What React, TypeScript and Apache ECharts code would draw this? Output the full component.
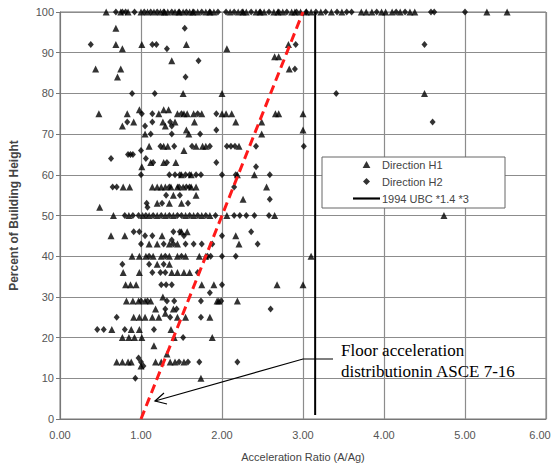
import React, { useEffect, useRef } from "react";
import * as echarts from "echarts";

const xTicks = ["0.00", "1.00", "2.00", "3.00", "4.00", "5.00", "6.00"];
const yTicks = [0, 10, 20, 30, 40, 50, 60, 70, 80, 90, 100];

const seriesNames = ["Direction H1", "Direction H2", "1994 UBC *1.4 *3"];

// Direction H1 (triangles): [acceleration ratio, percent of building height]
const h1Points: [number, number][] = [
  [0.57, 100], [0.75, 100], [0.84, 100], [1.0, 100], [1.08, 100], [1.16, 100], [1.24, 100], [1.33, 100], [1.42, 100],
  [1.52, 100], [1.6, 100], [1.7, 100], [1.8, 100], [1.9, 100], [2.1, 100], [2.2, 100], [2.3, 100], [2.42, 100],
  [2.52, 100], [2.64, 100], [2.75, 100], [2.86, 100], [2.97, 100], [3.1, 100], [3.22, 100], [3.35, 100], [3.48, 100],
  [3.72, 100], [3.78, 100], [3.85, 100], [3.97, 100], [4.02, 100], [4.1, 100], [4.2, 100], [4.32, 100], [4.38, 100],
  [1.29, 100], [1.47, 100], [1.64, 100], [1.85, 100], [2.26, 100], [2.47, 100], [2.69, 100], [2.9, 100], [3.04, 100],
  [5.27, 100], [5.52, 100],
  [0.69, 96], [0.69, 92], [1.01, 92], [1.56, 92], [2.82, 92], [0.77, 91], [2.06, 91], [2.65, 89], [2.7, 89],
  [1.38, 88], [0.44, 86], [0.75, 86], [2.83, 86], [0.71, 84], [1.52, 80], [2.0, 80], [4.5, 80],
  [0.98, 76], [1.28, 76], [1.34, 76], [0.48, 75], [0.83, 75], [1.22, 75], [1.45, 75], [1.53, 75], [1.57, 75],
  [1.65, 75], [1.75, 75], [2.0, 75], [2.05, 75], [2.12, 75], [2.66, 75], [2.7, 75], [3.0, 75],
  [0.91, 73], [1.27, 73], [1.42, 73], [1.66, 73], [2.17, 73], [2.49, 73], [0.77, 72], [1.3, 72],
  [1.56, 71], [3.0, 71], [1.05, 70], [1.59, 70], [2.49, 70],
  [1.1, 67], [1.28, 67], [1.33, 67], [1.68, 67], [1.76, 67], [1.8, 67], [2.21, 67], [1.53, 66],
  [1.12, 63], [1.28, 63], [1.43, 63], [1.01, 62],
  [1.5, 60], [1.62, 60], [2.19, 60], [2.4, 60],
  [0.78, 57], [0.86, 57], [1.14, 57], [1.2, 57], [1.25, 57], [1.3, 57], [1.37, 57], [1.45, 57], [1.52, 57],
  [1.62, 57], [1.68, 57], [2.55, 57], [1.4, 55], [1.68, 55], [2.26, 54],
  [1.2, 53], [1.35, 53], [1.5, 53], [0.49, 52],
  [0.66, 50], [0.85, 50], [1.02, 50], [1.1, 50], [1.2, 50], [1.3, 50], [1.4, 50], [1.55, 50], [1.65, 50],
  [1.75, 50], [1.85, 50], [2.06, 50], [2.65, 50], [4.74, 50],
  [1.5, 46], [1.57, 46], [0.63, 45], [0.8, 45], [1.26, 45], [2.17, 45],
  [1.1, 43], [1.2, 43], [1.35, 43], [1.45, 43], [2.21, 43],
  [0.89, 40], [0.98, 40], [1.06, 40], [1.15, 40], [1.25, 40], [1.35, 40], [1.45, 40], [1.55, 40], [1.72, 40],
  [1.8, 40], [3.1, 40], [1.2, 38], [1.35, 38],
  [0.78, 36], [0.98, 36], [1.38, 36], [1.45, 36], [1.53, 36], [1.6, 36],
  [0.81, 33], [0.87, 33], [0.94, 33], [1.75, 33], [1.9, 33], [2.68, 33], [3.0, 33],
  [1.27, 30], [0.82, 29], [0.9, 29], [0.97, 29], [1.05, 29], [1.12, 29], [1.94, 29], [1.96, 29], [2.19, 29],
  [1.18, 27], [1.4, 27],
  [0.91, 25], [0.98, 25], [1.05, 25], [1.14, 25], [1.22, 25], [1.3, 26], [1.45, 25], [1.55, 25], [1.85, 25],
  [0.64, 22], [0.88, 22], [0.98, 22], [1.37, 22],
  [0.77, 20], [0.85, 20], [0.92, 20], [1.01, 20], [1.41, 20], [1.88, 20],
  [1.16, 18], [1.32, 16],
  [0.7, 14], [0.77, 14], [0.84, 14], [0.88, 14], [1.18, 14], [1.25, 14], [1.36, 14], [1.42, 14], [1.53, 14],
  [1.0, 13], [1.74, 10],
];

// Direction H2 (diamonds)
const h2Points: [number, number][] = [
  [0.69, 100], [0.77, 100], [0.81, 100], [0.92, 100], [1.04, 100], [1.12, 100], [1.2, 100], [1.28, 100], [1.38, 100],
  [1.47, 100], [1.56, 100], [1.65, 100], [1.75, 100], [1.85, 100], [1.95, 100], [2.05, 100], [2.15, 100], [2.25, 100],
  [2.36, 100], [2.47, 100], [2.58, 100], [2.7, 100], [2.8, 100], [2.92, 100], [3.04, 100], [3.16, 100], [3.28, 100],
  [3.42, 100], [3.54, 100], [3.6, 100], [3.91, 100], [4.15, 100], [4.26, 100], [4.58, 100], [4.62, 100], [5.0, 100],
  [1.54, 96], [0.38, 92], [1.14, 92], [1.19, 92], [2.91, 92], [4.5, 92], [1.32, 91],
  [1.71, 88], [2.9, 86], [1.55, 84],
  [0.89, 80], [1.17, 80], [3.41, 80],
  [1.01, 75], [1.14, 75], [1.5, 75], [1.7, 75], [1.93, 75],
  [0.83, 73], [1.14, 73], [1.36, 73], [4.6, 73], [1.05, 72], [1.38, 72], [1.93, 71],
  [1.12, 70], [1.38, 70], [1.73, 70],
  [1.24, 67], [1.41, 67], [1.63, 67], [1.85, 67], [2.06, 67], [2.11, 67], [2.16, 67], [2.42, 67], [3.01, 67],
  [1.0, 66], [0.84, 65], [0.87, 65], [0.9, 65], [0.63, 64], [1.06, 64],
  [1.15, 63], [1.32, 63], [1.93, 63], [2.42, 62],
  [1.0, 60], [1.35, 60], [1.42, 60], [1.48, 60], [1.55, 60], [1.6, 60], [1.68, 60], [1.74, 60], [2.0, 60],
  [2.17, 60], [2.59, 60],
  [0.65, 57], [0.7, 57], [1.35, 57], [1.47, 57], [1.56, 57], [1.6, 57], [2.15, 57],
  [1.31, 55], [1.48, 55], [2.59, 54], [1.07, 53], [1.26, 53], [1.58, 53], [1.08, 52],
  [0.8, 50], [0.9, 50], [0.97, 50], [1.06, 50], [1.15, 50], [1.25, 50], [1.35, 50], [1.45, 50], [1.5, 50],
  [1.6, 50], [1.7, 50], [1.8, 50], [1.92, 50], [2.15, 50], [2.22, 50], [2.3, 50], [2.4, 50], [2.58, 50],
  [0.91, 46], [0.98, 46], [1.4, 46], [1.48, 46], [2.36, 46], [1.05, 45], [1.14, 45], [1.53, 45], [2.0, 45], [1.38, 44],
  [1.0, 43], [1.28, 43], [1.4, 43], [1.55, 43], [1.65, 43], [1.75, 43], [1.88, 43], [2.44, 43],
  [1.1, 40], [1.3, 40], [1.5, 40], [1.82, 40], [1.86, 40], [2.0, 40], [2.17, 40],
  [0.77, 38], [1.1, 38], [1.28, 38], [1.14, 36], [1.24, 36], [1.3, 36], [1.7, 36],
  [1.25, 33], [1.31, 33], [1.38, 33], [2.0, 33], [1.85, 31],
  [1.0, 29], [1.08, 29], [1.32, 29], [1.41, 29], [1.74, 29], [1.99, 29],
  [1.3, 27], [1.44, 27], [2.6, 27], [0.7, 25], [1.36, 25], [1.74, 25],
  [0.46, 22], [0.54, 22], [0.8, 22], [1.16, 22], [1.52, 20],
  [0.97, 15], [1.0, 14], [1.03, 13], [1.47, 14], [1.58, 14], [1.72, 14], [2.19, 14],
  [0.93, 10],
];

// 1994 UBC *1.4 *3 limit (vertical line)
const ubcLine: [number, number][] = [[3.15, 1], [3.15, 100]];
// ASCE 7-16 floor acceleration distribution (red dashed line)
const asceLine: [number, number][] = [[1, 0], [3, 100]];

export default function App() {
  const ref = useRef<HTMLDivElement>(null);

  useEffect(() => {
    if (!ref.current) return;
    const chart = echarts.init(ref.current, undefined, { renderer: "svg" });
    const sans = "Liberation Sans, Arial, sans-serif";
    const gridColor = "#8c8c8c";

    chart.setOption({
      animation: false,
      backgroundColor: "#ffffff",
      grid: {
        left: 60,
        right: 6,
        top: 12,
        bottom: 46,
        show: true,
        borderColor: "#777",
        borderWidth: 1,
        containLabel: false,
        outerBoundsMode: "none",
      },
      xAxis: {
        type: "value",
        min: 0,
        max: 6,
        interval: 1,
        name: "Acceleration Ratio (A/Ag)",
        nameLocation: "middle",
        nameGap: 32,
        nameTextStyle: { fontFamily: sans, fontSize: 11, color: "#444" },
        axisLine: { show: true, lineStyle: { color: "#777", width: 1 } },
        axisTick: { show: false },
        axisLabel: {
          fontFamily: sans,
          fontSize: 11,
          color: "#555",
          margin: 10,
          formatter: (v: number) => {
            const i = Math.round(v);
            const t = xTicks[i] ?? "";
            return i === xTicks.length - 1 ? `{last|${t}}` : t;
          },
          rich: {
            last: { fontFamily: sans, fontSize: 11, color: "#555", padding: [0, 12, 0, 0] },
          },
        },
        splitLine: { show: true, lineStyle: { color: gridColor, width: 1.2 } },
      },
      yAxis: {
        type: "value",
        min: 0,
        max: 100,
        interval: 10,
        name: "Percent of Building Height",
        nameLocation: "middle",
        nameGap: 40,
        nameTextStyle: { fontFamily: sans, fontSize: 12, fontWeight: "bold", color: "#444" },
        axisLine: { show: true, lineStyle: { color: "#777", width: 1 } },
        axisTick: { show: true, length: 4, lineStyle: { color: "#777" } },
        axisLabel: {
          fontFamily: sans,
          fontSize: 11,
          color: "#555",
          margin: 6,
          formatter: (v: number) => (yTicks.includes(v) ? String(v) : ""),
        },
        splitLine: { show: true, lineStyle: { color: gridColor, width: 1.2 } },
      },
      legend: {
        data: [
          { name: seriesNames[0], icon: "path://M5,0L10,9L0,9Z" },
          { name: seriesNames[1], icon: "path://M5,0L10,5L5,10L0,5Z" },
          { name: seriesNames[2], icon: "path://M0,0L30,0L30,2.4L0,2.4Z" },
        ],
        orient: "vertical",
        left: 353,
        top: 158,
        itemWidth: 27,
        itemHeight: 7,
        itemGap: 4,
        z: 20,
        padding: 0,
        selectedMode: false,
        symbolKeepAspect: true,
        textStyle: { fontFamily: sans, fontSize: 11, color: "#444", lineHeight: 13, padding: [0, 0, 0, -3] },
      },
      graphic: [
        {
          type: "rect",
          z: 15,
          shape: { x: 322, y: 157, width: 183, height: 51 },
          style: { fill: "#ffffff", stroke: "#666", lineWidth: 1 },
        },
        {
          type: "text",
          z: 20,
          style: {
            x: 341,
            y: 350,
            text: "Floor acceleration",
            font: "17px 'Liberation Serif', 'Times New Roman', serif",
            fill: "#000",
            verticalAlign: "middle",
          },
        },
        {
          type: "text",
          z: 20,
          style: {
            x: 341,
            y: 371,
            text: "distributionin ASCE 7-16",
            font: "17px 'Liberation Serif', 'Times New Roman', serif",
            fill: "#000",
            verticalAlign: "middle",
          },
        },
        {
          type: "polyline",
          z: 20,
          shape: { points: [[333, 359], [303, 359], [155, 401]] },
          style: { stroke: "#000", lineWidth: 1.2, fill: "none" },
        },
        {
          type: "polyline",
          z: 20,
          shape: { points: [[164, 393], [155, 401], [167, 404]] },
          style: { stroke: "#000", lineWidth: 1.2, fill: "none" },
        },
      ],
      series: [
        {
          name: seriesNames[0],
          type: "scatter",
          symbol: "triangle",
          symbolSize: 7,
          itemStyle: { color: "#000" },
          data: h1Points,
          z: 3,
        },
        {
          name: seriesNames[1],
          type: "scatter",
          symbol: "diamond",
          symbolSize: [6, 7],
          itemStyle: { color: "#000" },
          data: h2Points,
          z: 3,
        },
        {
          name: seriesNames[2],
          type: "line",
          symbol: "none",
          data: ubcLine,
          lineStyle: { color: "#000", width: 2 },
          itemStyle: { color: "#000" },
          z: 4,
        },
        {
          name: "ASCE 7-16",
          type: "line",
          symbol: "none",
          data: asceLine,
          lineStyle: { color: "#ff1a1a", width: 3, type: [9, 5] },
          z: 5,
        },
      ],
    });

    return () => chart.dispose();
  }, []);

  return <div ref={ref} style={{ width: 552, height: 465, position: "absolute", left: 0, top: 0 }} />;
}
